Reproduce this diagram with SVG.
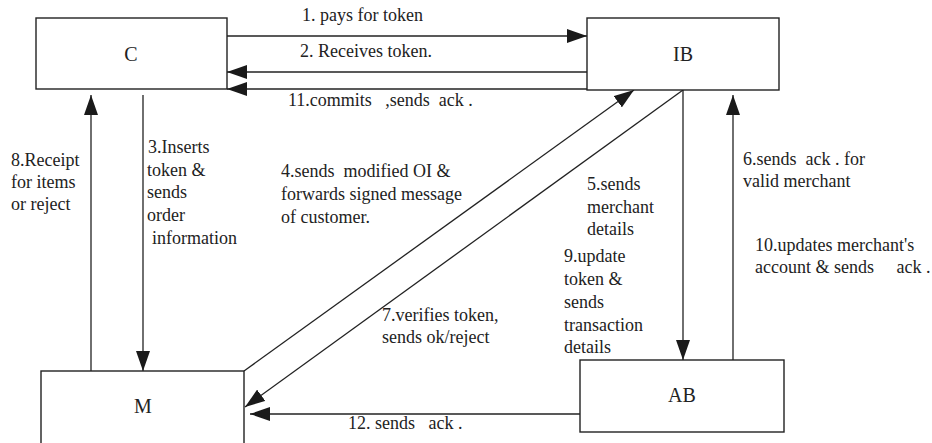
<svg xmlns="http://www.w3.org/2000/svg" width="932" height="443" viewBox="0 0 932 443">
<style>
.box{fill:#fff;stroke:#222;stroke-width:1.4}
.ln{fill:none;stroke:#222;stroke-width:1.3}
.nl{font-family:"Liberation Serif","Times New Roman",serif;font-size:20px;fill:#222;text-anchor:middle}
.lb{font-family:"Liberation Serif","Times New Roman",serif;font-size:18px;fill:#222;white-space:pre}
</style>
<defs>
<marker id="ah" markerUnits="userSpaceOnUse" markerWidth="20" markerHeight="14" refX="20" refY="7" orient="auto">
<path d="M0,0 L20,7 L0,14 z" fill="#1a1a1a"/>
</marker>
</defs>
<rect width="932" height="443" fill="#fff"/>
<g id="connectors">
<line class="ln" x1="227" y1="36" x2="587" y2="36" marker-end="url(#ah)"/>
<line class="ln" x1="587" y1="72" x2="227" y2="72" marker-end="url(#ah)"/>
<line class="ln" x1="587" y1="89" x2="227" y2="89" marker-end="url(#ah)"/>
<line class="ln" x1="143" y1="95" x2="143" y2="371" marker-end="url(#ah)"/>
<line class="ln" x1="91" y1="371" x2="91" y2="95" marker-end="url(#ah)"/>
<line class="ln" x1="244" y1="371" x2="634" y2="90" marker-end="url(#ah)"/>
<line class="ln" x1="683" y1="90" x2="245" y2="407" marker-end="url(#ah)"/>
<line class="ln" x1="683" y1="90" x2="683" y2="360" marker-end="url(#ah)"/>
<line class="ln" x1="733" y1="360" x2="733" y2="95" marker-end="url(#ah)"/>
<line class="ln" x1="580" y1="414" x2="250" y2="414" marker-end="url(#ah)"/>
<g class="lb">
<text x="302" y="21">1. pays for token</text>
<text x="300" y="57">2. Receives token.</text>
<text x="288" y="106" xml:space="preserve">11.commits   ,sends  ack .</text>
<text x="11" y="166">8.Receipt</text>
<text x="11" y="188">for items</text>
<text x="11" y="210">or reject</text>
<text x="148" y="153">3.Inserts</text>
<text x="147" y="176">token &amp;</text>
<text x="147" y="198">sends</text>
<text x="147" y="221">order</text>
<text x="152" y="244">information</text>
<text x="281" y="177" xml:space="preserve">4.sends  modified OI &amp;</text>
<text x="281" y="200">forwards signed message</text>
<text x="281" y="223">of customer.</text>
<text x="587" y="190">5.sends</text>
<text x="587" y="213">merchant</text>
<text x="587" y="235">details</text>
<text x="564" y="262">9.update</text>
<text x="564" y="285">token &amp;</text>
<text x="564" y="308">sends</text>
<text x="564" y="331">transaction</text>
<text x="564" y="353">details</text>
<text x="743" y="165" xml:space="preserve">6.sends  ack . for</text>
<text x="743" y="187">valid merchant</text>
<text x="755" y="251">10.updates merchant's</text>
<text x="755" y="273" xml:space="preserve">account &amp; sends     ack .</text>
<text x="382" y="321">7.verifies token,</text>
<text x="382" y="343">sends ok/reject</text>
<text x="348" y="429" xml:space="preserve">12. sends   ack .</text>
</g>
</g>
<g id="node-C"><rect class="box" x="36" y="18" width="191" height="71"/><text class="nl" x="131" y="61">C</text></g>
<g id="node-IB"><rect class="box" x="587" y="18" width="192" height="72"/><text class="nl" x="683" y="61">IB</text></g>
<g id="node-M"><rect class="box" x="41" y="371" width="203" height="80"/><text class="nl" x="143" y="413">M</text></g>
<g id="node-AB"><rect class="box" x="580" y="360" width="204" height="72"/><text class="nl" x="682" y="402">AB</text></g>
</svg>
